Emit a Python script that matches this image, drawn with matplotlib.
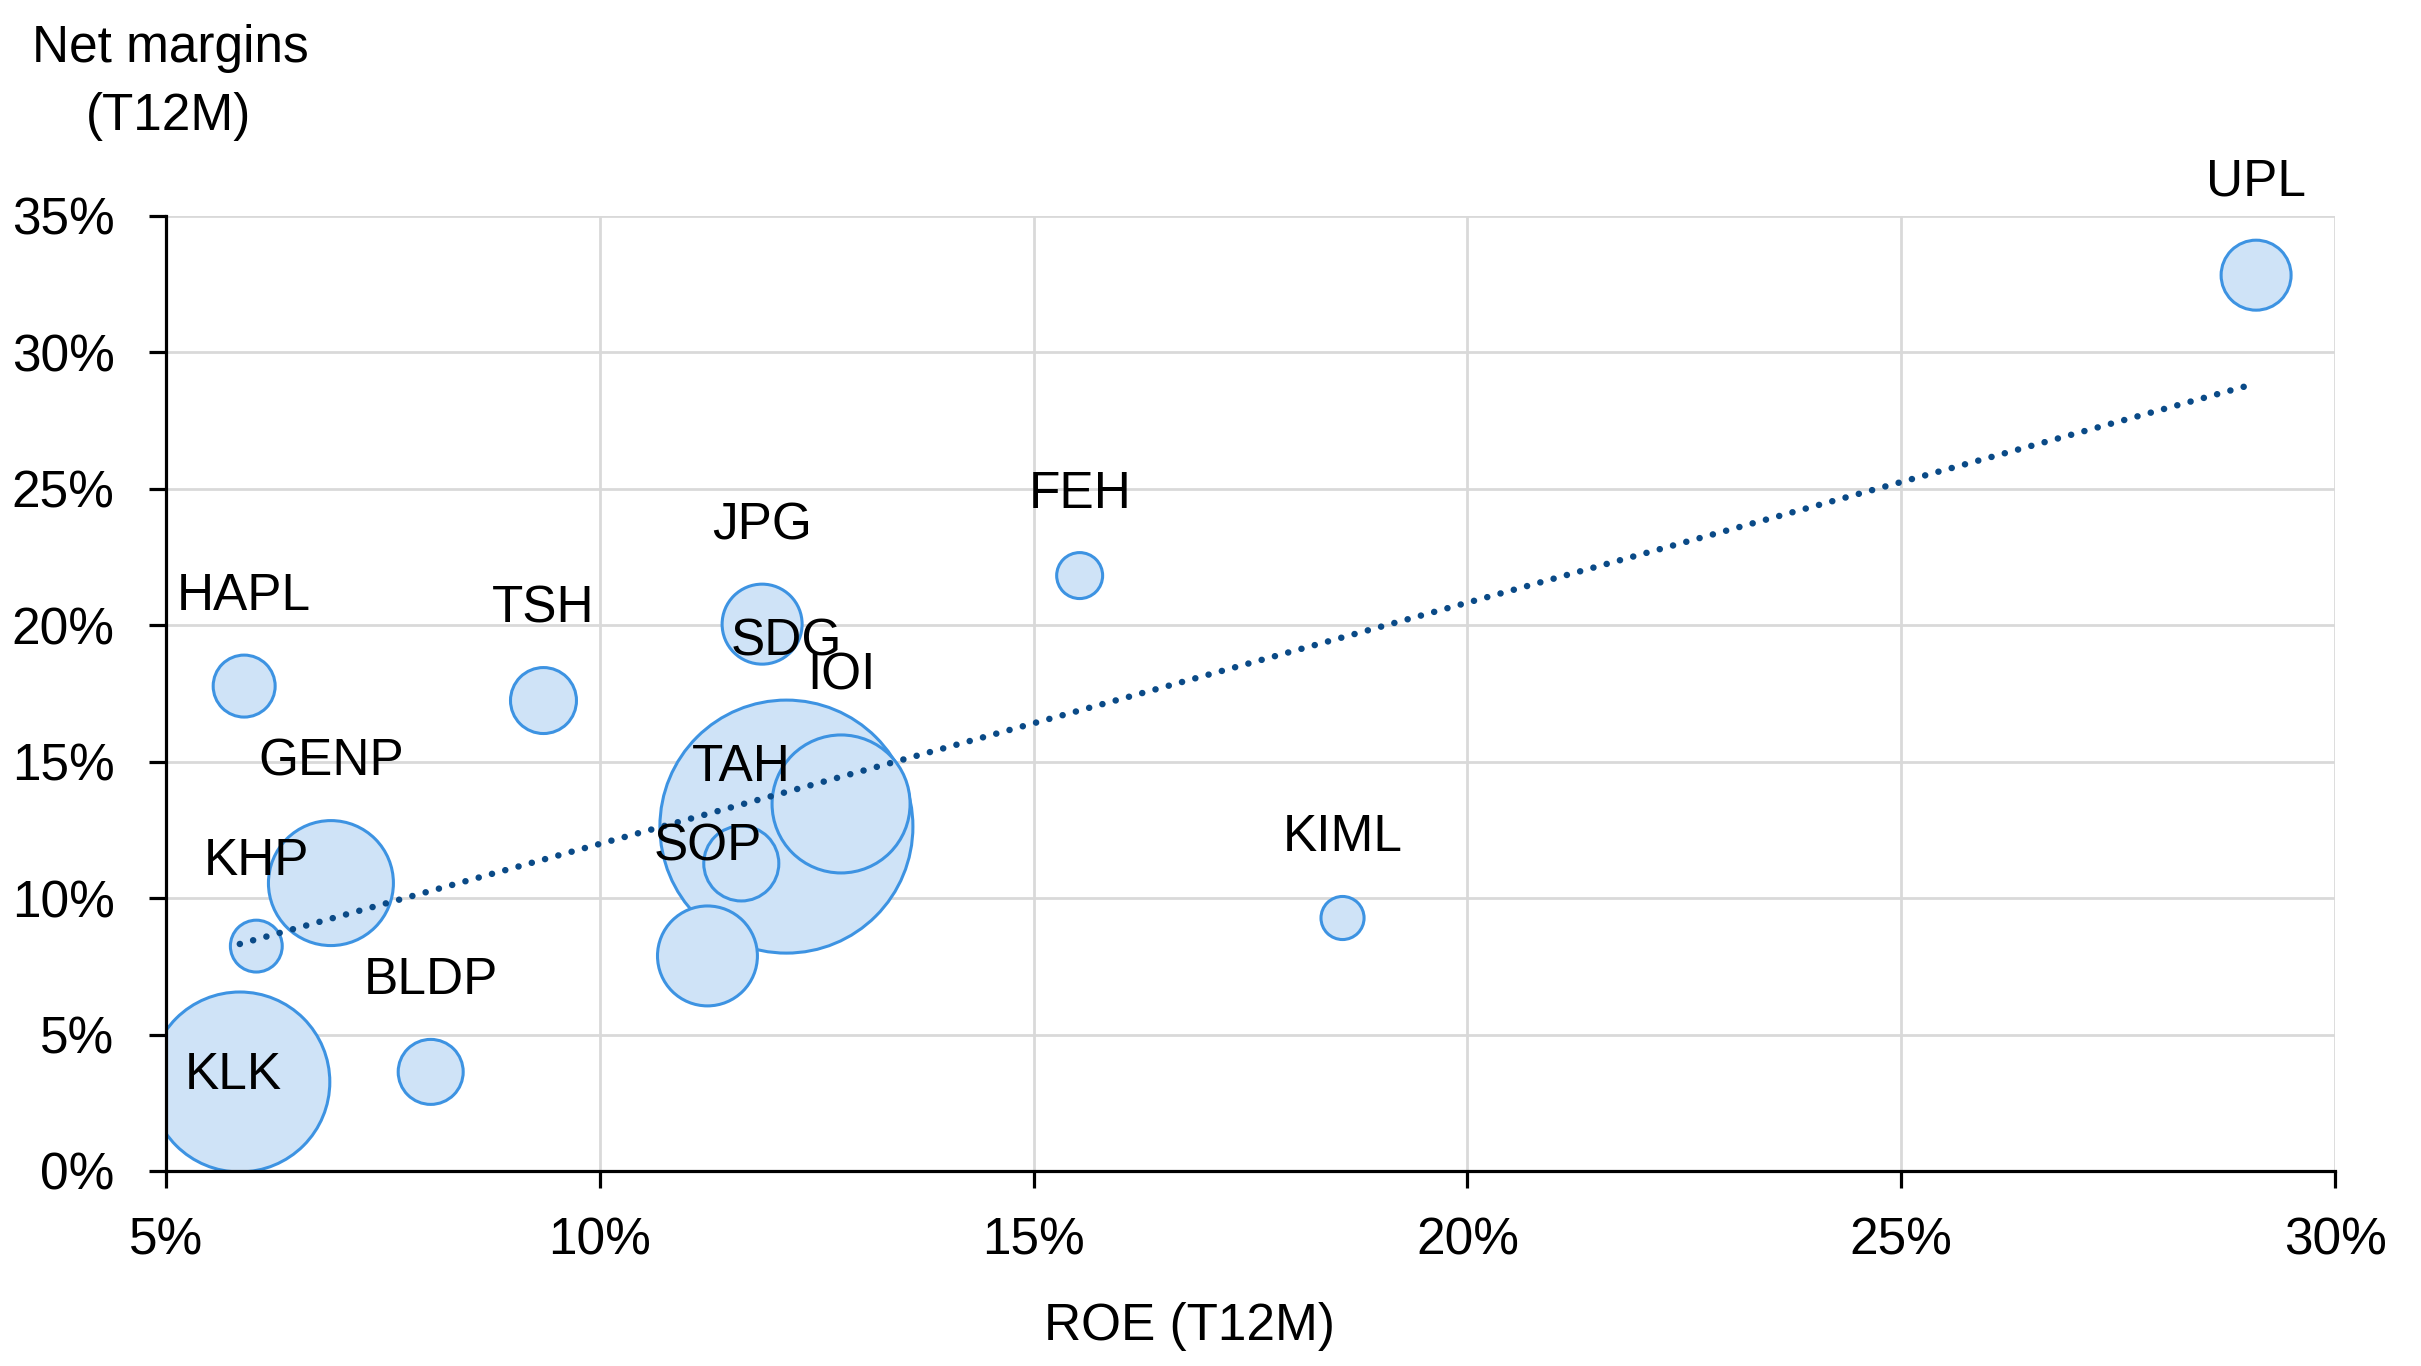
import numpy as np
import matplotlib
matplotlib.use("Agg")
import matplotlib.pyplot as plt
from matplotlib.ticker import FuncFormatter

plt.rcParams["font.family"] = ["Liberation Sans", "DejaVu Sans"]

# company, ROE (T12M, %), net margin (T12M, %), relative bubble size
companies = ["SDG", "KLK", "IOI", "GENP", "SOP", "JPG", "TAH", "UPL",
             "TSH", "BLDP", "HAPL", "KHP", "FEH", "KIML"]
roe = [12.15, 5.85, 12.78, 6.90, 11.24, 11.87, 11.63, 29.09,
       9.35, 8.05, 5.90, 6.04, 15.53, 18.56]
net_margin = [12.62, 3.26, 13.45, 10.55, 7.88, 20.04, 11.27, 32.83,
              17.24, 3.63, 17.77, 8.24, 21.82, 9.27]
bubble_size = [100, 50.6, 29.75, 24.4, 15.6, 10.0, 8.8, 7.65,
               6.8, 6.6, 6.0, 4.2, 3.3, 2.9]

x_ticks = [5, 10, 15, 20, 25, 30]
y_ticks = [0, 5, 10, 15, 20, 25, 30, 35]

fill = "#cfe3f7"
edge = "#3d93e2"
trend_color = "#0a4a87"
grid_color = "#d9d9d9"
fs = 37

fig = plt.figure(figsize=(24.21, 13.66), dpi=100)
ax = fig.add_axes([0.0686, 0.1428, 0.8959, 0.6991])

s_max = (2 * 126.5 * 0.72) ** 2
sizes = np.array(bubble_size) / 100 * s_max
ax.scatter(roe, net_margin, s=sizes, c=fill, edgecolors=edge, linewidths=2.2, zorder=2)

# linear trend line across the data range
k, b = np.polyfit(roe, net_margin, 1)
xs = np.array([min(roe), max(roe)])
ax.plot(xs, k * xs + b, color=trend_color, lw=4.7, linestyle=(0, (0.01, 2.1)),
        dash_capstyle="round", zorder=3)

for name, x, y, s in zip(companies, roe, net_margin, sizes):
    r_px = np.sqrt(s) / 2 / 0.72
    if name == "KLK":
        off = (-5, -5)
    else:
        off = (0, (r_px + 45) * 0.72)
    ax.annotate(name, (x, y), xytext=off, textcoords="offset points",
                ha="center", va="baseline", fontsize=fs, zorder=4)

ax.set_xlim(5, 30)
ax.set_ylim(0, 35)
ax.set_xticks(x_ticks)
ax.set_yticks(y_ticks)
pct = FuncFormatter(lambda v, p: f"{v:.0f}%")
ax.xaxis.set_major_formatter(pct)
ax.yaxis.set_major_formatter(pct)

ax.set_axisbelow(True)
ax.grid(True, color=grid_color, lw=2.0)
for side in ["top", "right"]:
    ax.spines[side].set_visible(False)
for side in ["left", "bottom"]:
    ax.spines[side].set_linewidth(2.3)
    ax.spines[side].set_color("black")
ax.tick_params(axis="both", length=12, width=2.3, labelsize=fs, direction="out")
ax.tick_params(axis="y", pad=25)
ax.tick_params(axis="x", pad=21)

ax.text(0.4717, -0.1628, "ROE (T12M)", transform=ax.transAxes, ha="center",
        va="center", fontsize=fs)
fig.text(170 / 2421, 1 - 62 / 1366, "Net margins", ha="center", va="baseline", fontsize=fs)
fig.text(168 / 2421, 1 - 130 / 1366, "(T12M)", ha="center", va="baseline", fontsize=fs)

plt.savefig("out.png", dpi=100)
